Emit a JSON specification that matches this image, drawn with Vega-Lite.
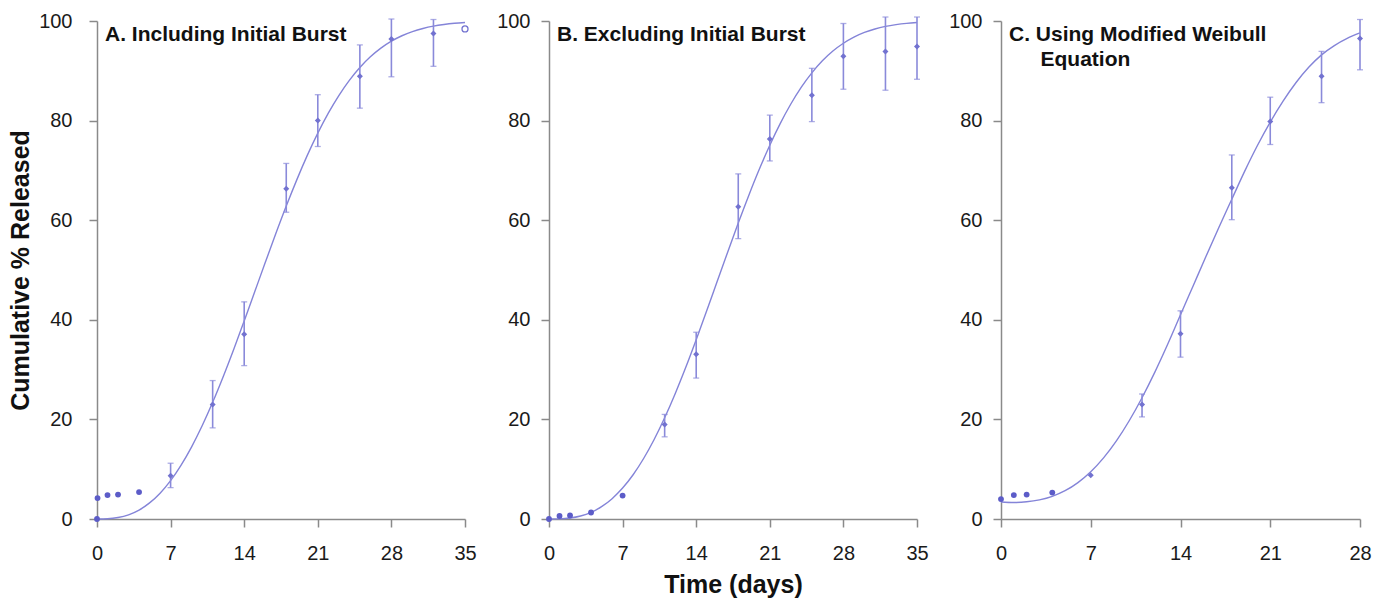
{
  "$schema": "https://vega.github.io/schema/vega-lite/v6.json",
  "padding": {"left": 8, "top": 11, "right": 5, "bottom": 2},
  "spacing": 19,
  "config": {
    "view": {"stroke": null},
    "axis": {"grid": false, "domainColor": "#8a8a8a", "domainWidth": 1.5, "tickColor": "#8a8a8a", "tickWidth": 1.5, "tickSize": 8, "labelFont": "Liberation Sans", "labelFontSize": 20, "labelColor": "#1a1a1a", "titleFont": "Liberation Sans", "titleFontSize": 25, "titleFontWeight": "bold", "titleColor": "#111111", "labelFlush": false, "labelOverlap": false},
    "axisY": {"labelPadding": 11, "titlePadding": 11},
    "axisX": {"labelPadding": 16, "titlePadding": 9},
    "title": {"font": "Liberation Sans", "fontSize": 21, "fontWeight": "bold", "color": "#111111", "anchor": "start", "frame": "group", "baseline": "top", "offset": -34, "dx": 8, "lineHeight": 25}
  },
  "datasets": {
    "ptsA": [
      {"t": 0, "v": 0}, {"t": 0.05, "v": 4.2}, {"t": 1, "v": 4.8}, {"t": 2, "v": 4.9}, {"t": 4, "v": 5.4},
      {"t": 7, "v": 8.7, "lo": 6.3, "hi": 11.2},
      {"t": 11, "v": 23.0, "lo": 18.3, "hi": 27.8},
      {"t": 14, "v": 37.1, "lo": 30.8, "hi": 43.6},
      {"t": 18, "v": 66.3, "lo": 61.6, "hi": 71.4},
      {"t": 21, "v": 80.0, "lo": 74.8, "hi": 85.2},
      {"t": 25, "v": 88.9, "lo": 82.5, "hi": 95.2},
      {"t": 28, "v": 96.4, "lo": 88.8, "hi": 100.4},
      {"t": 32, "v": 97.5, "lo": 90.9, "hi": 100.3},
      {"t": 35, "v": 98.4}
    ],
    "curveA": [
      {"t": 0, "v": 0}, {"t": 1, "v": 0.05}, {"t": 2, "v": 0.29}, {"t": 3, "v": 0.84}, {"t": 4, "v": 1.79},
      {"t": 5, "v": 3.23}, {"t": 6, "v": 5.19}, {"t": 7, "v": 7.71}, {"t": 8, "v": 10.82}, {"t": 9, "v": 14.49},
      {"t": 10, "v": 18.71}, {"t": 11, "v": 23.43}, {"t": 12, "v": 28.58}, {"t": 13, "v": 34.05}, {"t": 14, "v": 39.78},
      {"t": 15, "v": 45.63}, {"t": 16, "v": 51.49}, {"t": 17, "v": 57.26}, {"t": 18, "v": 62.83}, {"t": 19, "v": 68.10},
      {"t": 20, "v": 73.01}, {"t": 21, "v": 77.49}, {"t": 22, "v": 81.50}, {"t": 23, "v": 85.03}, {"t": 24, "v": 88.08},
      {"t": 25, "v": 90.66}, {"t": 26, "v": 92.81}, {"t": 27, "v": 94.55}, {"t": 28, "v": 95.95}, {"t": 29, "v": 97.04},
      {"t": 30, "v": 97.87}, {"t": 31, "v": 98.50}, {"t": 32, "v": 98.97}, {"t": 33, "v": 99.30}, {"t": 34, "v": 99.54},
      {"t": 35, "v": 99.70}
    ],
    "ptsB": [
      {"t": 0, "v": 0}, {"t": 1, "v": 0.6}, {"t": 2, "v": 0.7}, {"t": 4, "v": 1.3}, {"t": 7, "v": 4.7},
      {"t": 11, "v": 19.0, "lo": 16.5, "hi": 21.0},
      {"t": 14, "v": 33.1, "lo": 28.3, "hi": 37.5},
      {"t": 18, "v": 62.7, "lo": 56.3, "hi": 69.3},
      {"t": 21, "v": 76.3, "lo": 71.9, "hi": 81.1},
      {"t": 25, "v": 85.1, "lo": 79.8, "hi": 90.5},
      {"t": 28, "v": 92.9, "lo": 86.3, "hi": 99.5},
      {"t": 32, "v": 93.9, "lo": 86.1, "hi": 100.8},
      {"t": 35, "v": 94.9, "lo": 88.3, "hi": 100.8}
    ],
    "curveB": [
      {"t": 0, "v": 0}, {"t": 1, "v": 0.03}, {"t": 2, "v": 0.19}, {"t": 3, "v": 0.60}, {"t": 4, "v": 1.33},
      {"t": 5, "v": 2.47}, {"t": 6, "v": 4.08}, {"t": 7, "v": 6.21}, {"t": 8, "v": 8.89}, {"t": 9, "v": 12.15},
      {"t": 10, "v": 15.97}, {"t": 11, "v": 20.32}, {"t": 12, "v": 25.16}, {"t": 13, "v": 30.41}, {"t": 14, "v": 36.00},
      {"t": 15, "v": 41.81}, {"t": 16, "v": 47.73}, {"t": 17, "v": 53.63}, {"t": 18, "v": 59.43}, {"t": 19, "v": 64.98},
      {"t": 20, "v": 70.22}, {"t": 21, "v": 75.06}, {"t": 22, "v": 79.44}, {"t": 23, "v": 83.33}, {"t": 24, "v": 86.72},
      {"t": 25, "v": 89.59}, {"t": 26, "v": 92.00}, {"t": 27, "v": 93.96}, {"t": 28, "v": 95.53}, {"t": 29, "v": 96.76},
      {"t": 30, "v": 97.70}, {"t": 31, "v": 98.40}, {"t": 32, "v": 98.91}, {"t": 33, "v": 99.27}, {"t": 34, "v": 99.53},
      {"t": 35, "v": 99.70}
    ],
    "ptsC": [
      {"t": 0, "v": 4.0}, {"t": 1, "v": 4.8}, {"t": 2, "v": 4.9}, {"t": 4, "v": 5.3}, {"t": 7, "v": 8.8},
      {"t": 11, "v": 23.0, "lo": 20.5, "hi": 25.1},
      {"t": 14, "v": 37.2, "lo": 32.5, "hi": 41.8},
      {"t": 18, "v": 66.5, "lo": 60.1, "hi": 73.1},
      {"t": 21, "v": 79.8, "lo": 75.2, "hi": 84.7},
      {"t": 25, "v": 88.9, "lo": 83.6, "hi": 93.9},
      {"t": 28, "v": 96.5, "lo": 90.2, "hi": 100.3}
    ],
    "curveC": [
      {"t": 0, "v": 3.4}, {"t": 1, "v": 3.3}, {"t": 2, "v": 3.45}, {"t": 3, "v": 3.85}, {"t": 4, "v": 4.56},
      {"t": 5, "v": 5.68}, {"t": 6, "v": 7.31}, {"t": 7, "v": 9.49}, {"t": 8, "v": 12.28}, {"t": 9, "v": 15.69},
      {"t": 10, "v": 19.73}, {"t": 11, "v": 24.35}, {"t": 12, "v": 29.49}, {"t": 13, "v": 35.08}, {"t": 14, "v": 41.0},
      {"t": 15, "v": 46.9}, {"t": 16, "v": 52.8}, {"t": 17, "v": 58.6}, {"t": 18, "v": 64.2}, {"t": 19, "v": 69.8},
      {"t": 20, "v": 75.0}, {"t": 21, "v": 79.7}, {"t": 22, "v": 83.9}, {"t": 23, "v": 87.6}, {"t": 24, "v": 90.7},
      {"t": 25, "v": 93.2}, {"t": 26, "v": 95.06}, {"t": 27, "v": 96.5}, {"t": 28, "v": 97.6}
    ]
  },
  "hconcat": [
    {
      "width": 368, "height": 498,
      "title": {"text": "A. Including Initial Burst"},
      "encoding": {
        "x": {"field": "t", "type": "quantitative", "scale": {"domain": [0, 35], "nice": false}, "axis": {"values": [0, 7, 14, 21, 28, 35], "title": null}},
        "y": {"field": "v", "type": "quantitative", "scale": {"domain": [0, 100], "nice": false}, "title": "Cumulative % Released", "axis": {"values": [0, 20, 40, 60, 80, 100], "labelPadding": 17, "titlePadding": 5}}
      },
      "layer": [
        {"data": {"name": "curveA"}, "mark": {"type": "line", "color": "#8484d8", "strokeWidth": 1.4, "interpolate": "monotone"}},
        {"data": {"name": "ptsA"}, "transform": [{"filter": "isValid(datum.lo)"}], "mark": {"type": "rule", "color": "#8a8ada", "strokeWidth": 1.6},
         "encoding": {"y": {"field": "lo", "type": "quantitative", "title": "Cumulative % Released", "axis": {"values": [0, 20, 40, 60, 80, 100], "labelPadding": 17, "titlePadding": 5}}, "y2": {"field": "hi"}}},
        {"data": {"name": "ptsA"}, "transform": [{"filter": "isValid(datum.lo)"}], "mark": {"type": "tick", "orient": "horizontal", "size": 6, "thickness": 1.3, "color": "#8a8ada"},
         "encoding": {"y": {"field": "lo", "type": "quantitative", "title": "Cumulative % Released", "axis": {"values": [0, 20, 40, 60, 80, 100], "labelPadding": 17, "titlePadding": 5}}}},
        {"data": {"name": "ptsA"}, "transform": [{"filter": "isValid(datum.lo)"}], "mark": {"type": "tick", "orient": "horizontal", "size": 6, "thickness": 1.3, "color": "#8a8ada"},
         "encoding": {"y": {"field": "hi", "type": "quantitative", "title": "Cumulative % Released", "axis": {"values": [0, 20, 40, 60, 80, 100], "labelPadding": 17, "titlePadding": 5}}}},
        {"data": {"name": "ptsA"}, "transform": [{"filter": "datum.t < 5"}], "mark": {"type": "point", "shape": "circle", "filled": true, "size": 34, "opacity": 1, "color": "#5c5cc8"}},
        {"data": {"name": "ptsA"}, "transform": [{"filter": "datum.t >= 5 && datum.t < 34"}], "mark": {"type": "point", "shape": "diamond", "filled": true, "size": 36, "opacity": 1, "color": "#7272d0"}},
        {"data": {"name": "ptsA"}, "transform": [{"filter": "datum.t >= 34"}], "mark": {"type": "point", "shape": "circle", "filled": false, "size": 36, "strokeWidth": 1.3, "opacity": 1, "color": "#7272d0"}}
      ]
    },
    {
      "width": 368, "height": 498,
      "title": {"text": "B. Excluding Initial Burst"},
      "encoding": {
        "x": {"field": "t", "type": "quantitative", "scale": {"domain": [0, 35], "nice": false}, "title": "Time (days)", "axis": {"values": [0, 7, 14, 21, 28, 35]}},
        "y": {"field": "v", "type": "quantitative", "scale": {"domain": [0, 100], "nice": false}, "axis": {"values": [0, 20, 40, 60, 80, 100], "title": null}}
      },
      "layer": [
        {"data": {"name": "curveB"}, "mark": {"type": "line", "color": "#8484d8", "strokeWidth": 1.4, "interpolate": "monotone"}},
        {"data": {"name": "ptsB"}, "transform": [{"filter": "isValid(datum.lo)"}], "mark": {"type": "rule", "color": "#8a8ada", "strokeWidth": 1.6},
         "encoding": {"y": {"field": "lo", "type": "quantitative", "axis": {"values": [0, 20, 40, 60, 80, 100], "title": null}}, "y2": {"field": "hi"}}},
        {"data": {"name": "ptsB"}, "transform": [{"filter": "isValid(datum.lo)"}], "mark": {"type": "tick", "orient": "horizontal", "size": 6, "thickness": 1.3, "color": "#8a8ada"},
         "encoding": {"y": {"field": "lo", "type": "quantitative", "axis": {"values": [0, 20, 40, 60, 80, 100], "title": null}}}},
        {"data": {"name": "ptsB"}, "transform": [{"filter": "isValid(datum.lo)"}], "mark": {"type": "tick", "orient": "horizontal", "size": 6, "thickness": 1.3, "color": "#8a8ada"},
         "encoding": {"y": {"field": "hi", "type": "quantitative", "axis": {"values": [0, 20, 40, 60, 80, 100], "title": null}}}},
        {"data": {"name": "ptsB"}, "transform": [{"filter": "datum.t < 8"}], "mark": {"type": "point", "shape": "circle", "filled": true, "size": 34, "opacity": 1, "color": "#5c5cc8"}},
        {"data": {"name": "ptsB"}, "transform": [{"filter": "datum.t >= 8"}], "mark": {"type": "point", "shape": "diamond", "filled": true, "size": 36, "opacity": 1, "color": "#7272d0"}}
      ]
    },
    {
      "width": 359, "height": 498,
      "title": {"text": ["C. Using Modified Weibull", "\u200b\u2002\u2002\u2002Equation"], "offset": -59},
      "encoding": {
        "x": {"field": "t", "type": "quantitative", "scale": {"domain": [0, 28], "nice": false}, "axis": {"values": [0, 7, 14, 21, 28], "title": null}},
        "y": {"field": "v", "type": "quantitative", "scale": {"domain": [0, 100], "nice": false}, "axis": {"values": [0, 20, 40, 60, 80, 100], "title": null}}
      },
      "layer": [
        {"data": {"name": "curveC"}, "mark": {"type": "line", "color": "#8484d8", "strokeWidth": 1.4, "interpolate": "monotone"}},
        {"data": {"name": "ptsC"}, "transform": [{"filter": "isValid(datum.lo)"}], "mark": {"type": "rule", "color": "#8a8ada", "strokeWidth": 1.6},
         "encoding": {"y": {"field": "lo", "type": "quantitative", "axis": {"values": [0, 20, 40, 60, 80, 100], "title": null}}, "y2": {"field": "hi"}}},
        {"data": {"name": "ptsC"}, "transform": [{"filter": "isValid(datum.lo)"}], "mark": {"type": "tick", "orient": "horizontal", "size": 6, "thickness": 1.3, "color": "#8a8ada"},
         "encoding": {"y": {"field": "lo", "type": "quantitative", "axis": {"values": [0, 20, 40, 60, 80, 100], "title": null}}}},
        {"data": {"name": "ptsC"}, "transform": [{"filter": "isValid(datum.lo)"}], "mark": {"type": "tick", "orient": "horizontal", "size": 6, "thickness": 1.3, "color": "#8a8ada"},
         "encoding": {"y": {"field": "hi", "type": "quantitative", "axis": {"values": [0, 20, 40, 60, 80, 100], "title": null}}}},
        {"data": {"name": "ptsC"}, "transform": [{"filter": "datum.t < 5"}], "mark": {"type": "point", "shape": "circle", "filled": true, "size": 34, "opacity": 1, "color": "#5c5cc8"}},
        {"data": {"name": "ptsC"}, "transform": [{"filter": "datum.t >= 5"}], "mark": {"type": "point", "shape": "diamond", "filled": true, "size": 36, "opacity": 1, "color": "#7272d0"}}
      ]
    }
  ]
}
